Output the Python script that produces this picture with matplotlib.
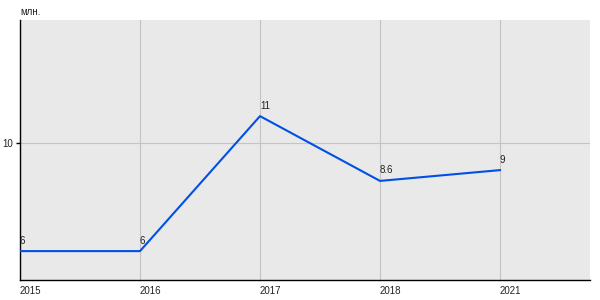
import matplotlib
matplotlib.use("Agg")
import matplotlib.pyplot as plt

years = ["2015", "2016", "2017", "2018", "2021"]
values = [6, 6, 11, 8.6, 9]
labels = ["6", "6", "11", "8.6", "9"]
unit = "млн."

plt.rcParams['font.family'] = ['Liberation Sans', 'DejaVu Sans']

fig = plt.figure(figsize=(6, 3), dpi=100)
W, H = 600, 300
ax = fig.add_axes([20 / W, 1 - 280 / H, 570 / W, 260 / H])
ax.set_facecolor('#e9e9e9')

x = list(range(len(years)))
ax.plot(x, values, color='#0050e6', lw=1.5, zorder=3)
for xi, v, lab in zip(x, values, labels):
    ax.annotate(lab, (xi, v), xytext=(0, 4), textcoords='offset points',
                ha='left', va='bottom', fontsize=7, color='#222222')

ax.set_xlim(0, 4.75)
ax.set_ylim(4.93, 14.56)
ax.set_xticks(x)
ax.set_xticklabels(years, ha='left', fontsize=7, color='#222222')
ax.set_yticks([10])
ax.set_yticklabels(["10"], fontsize=7, color='#222222')
ax.tick_params(axis='x', length=0, pad=4)
ax.tick_params(axis='y', length=3, width=1, pad=2)
ax.grid(True, color='#c4c4c4', lw=0.8)
ax.set_axisbelow(True)
for s in ['top', 'right']:
    ax.spines[s].set_visible(False)
for s in ['left', 'bottom']:
    ax.spines[s].set_color('black')
    ax.spines[s].set_linewidth(1.0)

fig.text(20 / W, 1 - 12 / H, unit, fontsize=7, ha='left', va='center', color='#222222')

fig.savefig('out.png', dpi=100)
